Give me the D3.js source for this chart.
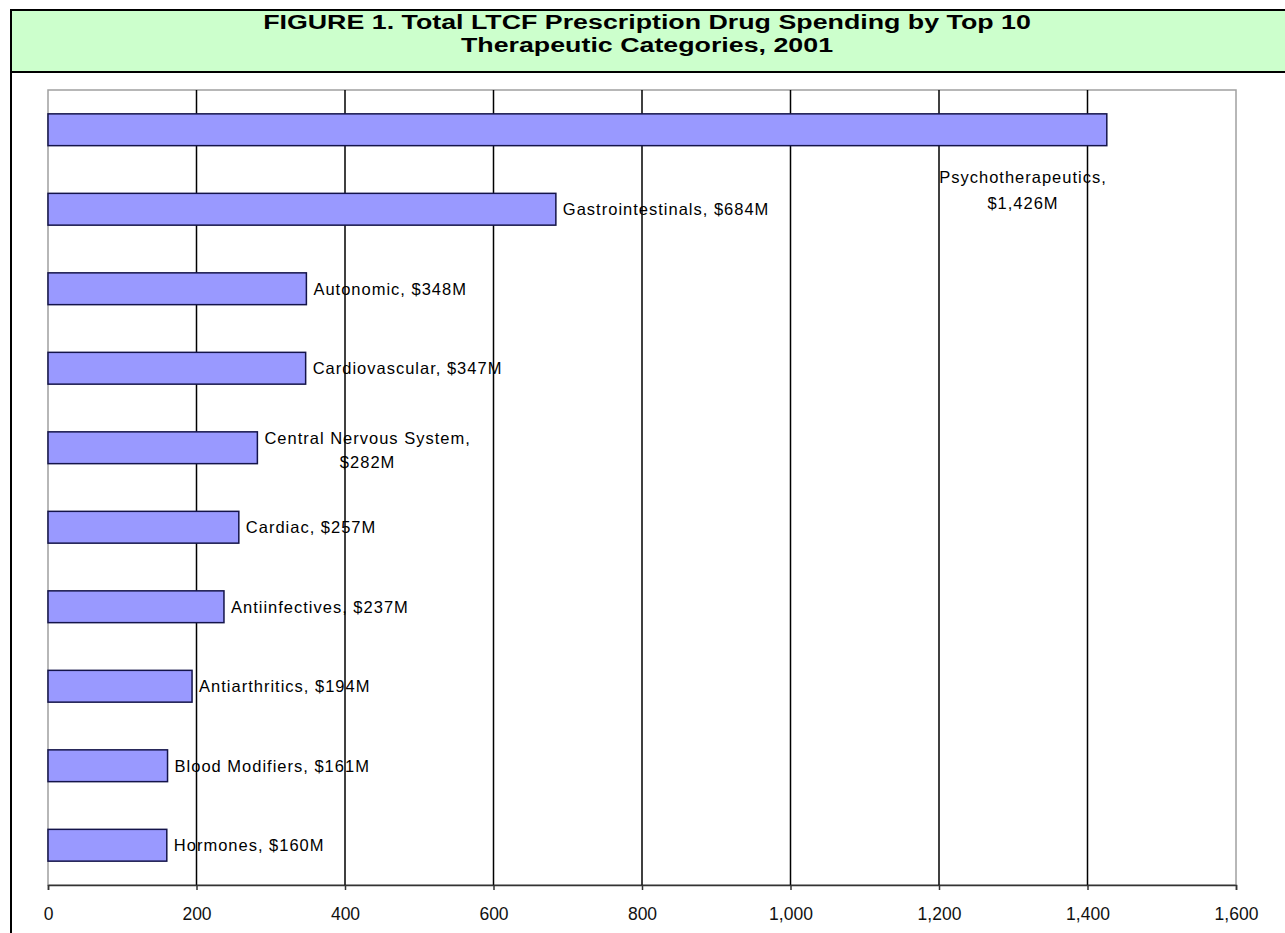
<!DOCTYPE html>
<html>
<head>
<meta charset="utf-8">
<script src="https://cdn.jsdelivr.net/npm/d3@7"></script>
<style>
  html, body { margin: 0; padding: 0; background: #fff; }
  svg { display: block; }
</style>
</head>
<body>
<svg id="chart" width="1285" height="933"></svg>
<script>
// Spending by therapeutic category, 2001 ($ millions)
const categories = [
  "Psychotherapeutics", "Gastrointestinals", "Autonomic", "Cardiovascular",
  "Central Nervous System", "Cardiac", "Antiinfectives", "Antiarthritics",
  "Blood Modifiers", "Hormones"
];
const spending = [1426, 684, 348, 347, 282, 257, 237, 194, 161, 160];
const xTicks = [0, 200, 400, 600, 800, 1000, 1200, 1400, 1600];
const titleLines = [
  "FIGURE 1. Total LTCF Prescription Drug Spending by Top 10",
  "Therapeutic Categories, 2001"
];

const data = categories.map((c, i) => ({ category: c, value: spending[i] }));

const W = 1285, H = 933;
const svg = d3.select("#chart");
const font = "Arial, 'Liberation Sans', sans-serif";

// Figure frame with the green title band
svg.append("rect").attr("x", 11).attr("y", 10).attr("width", W + 20).attr("height", H + 20)
  .attr("fill", "#fff").attr("stroke", "#000").attr("stroke-width", 2);
svg.append("rect").attr("x", 11).attr("y", 10).attr("width", W + 20).attr("height", 62)
  .attr("fill", "#ccffcc").attr("stroke", "#000").attr("stroke-width", 2);

// Title: wide bold type, stretched horizontally about its centre
const titleCx = 647;
const titleWidth = 768;
const titleG = svg.append("g");
const titleText = titleG.selectAll("text").data(titleLines).join("text")
  .attr("x", 0).attr("y", (d, i) => 29.5 + i * 22.5)
  .attr("text-anchor", "middle")
  .attr("font-family", font).attr("font-weight", "bold").attr("font-size", 20.5)
  .attr("fill", "#000")
  .text(d => d);
const natural = titleText.node().getComputedTextLength();
titleG.attr("transform", `translate(${titleCx},0) scale(${titleWidth / natural},1)`);

// Plot area
const plot = { left: 48, top: 90, right: 1236, bottom: 885 };

const x = d3.scaleLinear().domain([0, 1600]).range([plot.left, plot.right]);
const y = d3.scaleBand().domain(categories).range([plot.top, plot.bottom]).paddingInner(0.6).paddingOuter(0.3);

// Plot frame (light grey)
svg.append("rect")
  .attr("x", plot.left).attr("y", plot.top)
  .attr("width", plot.right - plot.left).attr("height", plot.bottom - plot.top)
  .attr("fill", "none").attr("stroke", "#a0a0a0").attr("stroke-width", 1.5);

// Vertical gridlines
svg.append("g").selectAll("line")
  .data(xTicks.filter(t => t > 0 && t < 1600)).join("line")
  .attr("x1", d => x(d)).attr("x2", d => x(d))
  .attr("y1", plot.top).attr("y2", plot.bottom)
  .attr("stroke", "#000").attr("stroke-width", 1.5);

// Bottom axis
const xAxis = d3.axisBottom(x)
  .tickValues(xTicks)
  .tickFormat(d3.format(","))
  .tickSize(5)
  .tickPadding(18);
const axisG = svg.append("g").attr("transform", `translate(0,${plot.bottom})`).call(xAxis);
axisG.select(".domain").attr("stroke", "#333").attr("stroke-width", 1.5);
axisG.selectAll(".tick line").attr("stroke", "#333").attr("stroke-width", 1.5);
axisG.selectAll(".tick text")
  .attr("font-family", font).attr("font-size", 17.5).attr("fill", "#111");

// Bars
svg.append("g").selectAll("rect").data(data).join("rect")
  .attr("x", x(0))
  .attr("y", d => y(d.category))
  .attr("width", d => x(d.value) - x(0))
  .attr("height", y.bandwidth())
  .attr("fill", "#9999ff")
  .attr("stroke", "#14144a").attr("stroke-width", 1.5);

// Data labels
const fmt = d3.format(",");
const labels = svg.append("g")
  .attr("font-family", font).attr("font-size", 16.5).attr("fill", "#000")
  .attr("letter-spacing", "1px");

data.forEach((d, i) => {
  const cy = y(d.category) + y.bandwidth() / 2;
  const xEnd = x(d.value);
  const valueText = `$${fmt(d.value)}M`;
  if (i === 0) {
    // Label sits below the longest bar, right-aligned to its end
    const t = labels.append("text").attr("text-anchor", "middle");
    const l1 = t.append("tspan").text(`${d.category},`);
    const w = l1.node().getComputedTextLength();
    const cx = xEnd - w / 2;
    l1.attr("x", cx).attr("y", cy + 53);
    t.append("tspan").attr("x", cx).attr("y", cy + 79).text(valueText);
  } else if (d.category === "Central Nervous System") {
    const t = labels.append("text").attr("text-anchor", "middle");
    const l1 = t.append("tspan").text(`${d.category},`);
    const w = l1.node().getComputedTextLength();
    const cx = xEnd + 7 + w / 2;
    l1.attr("x", cx).attr("y", cy - 4);
    t.append("tspan").attr("x", cx).attr("y", cy + 20).text(valueText);
  } else {
    labels.append("text")
      .attr("x", xEnd + 7).attr("y", cy + 6)
      .text(`${d.category}, ${valueText}`);
  }
});
</script>
</body>
</html>
